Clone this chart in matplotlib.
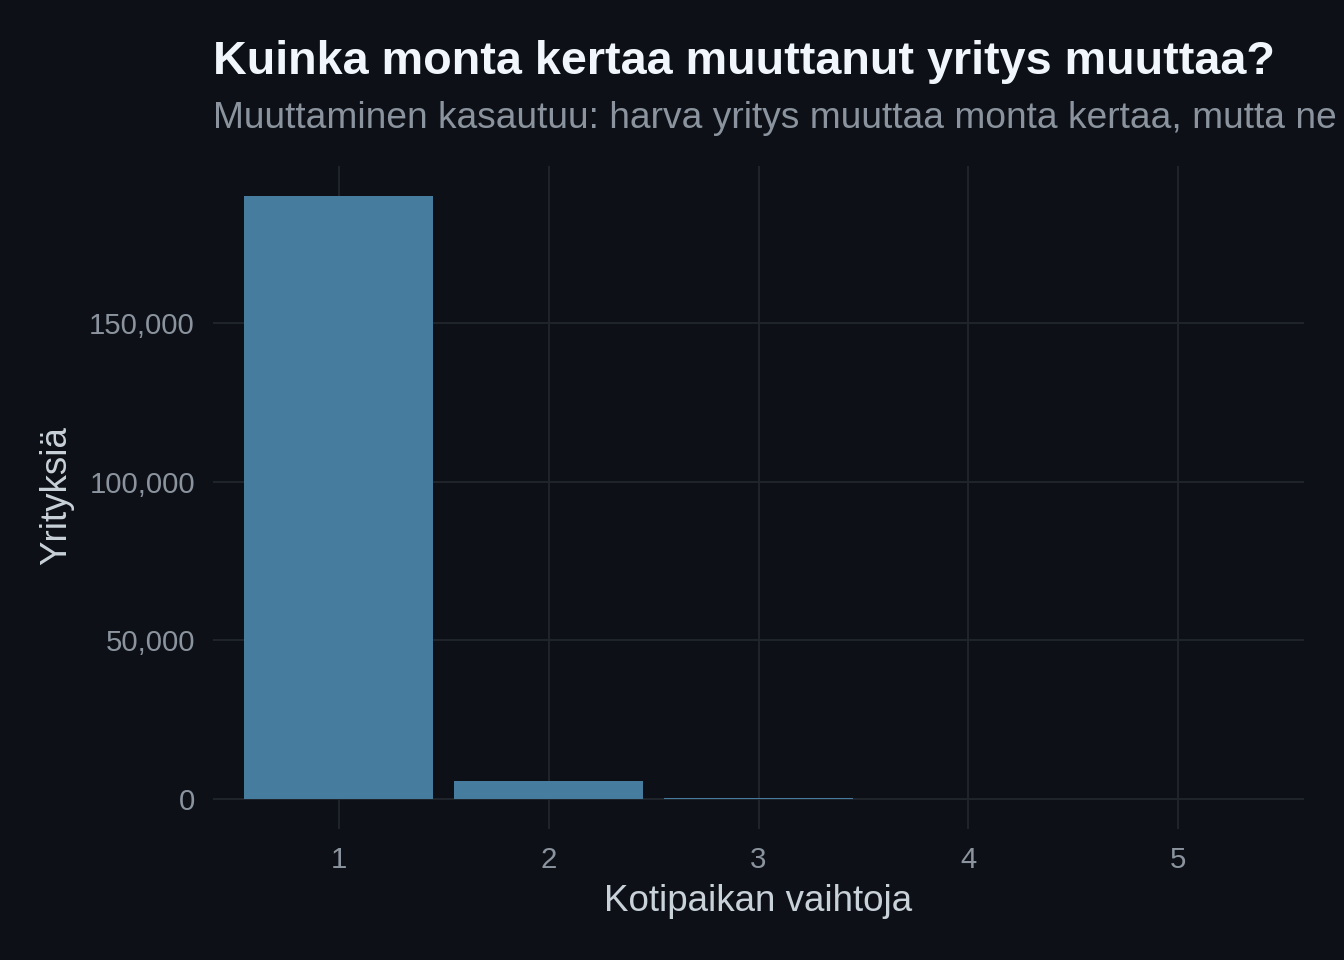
import matplotlib
matplotlib.use("Agg")
import matplotlib.pyplot as plt
from matplotlib.ticker import FuncFormatter

plt.rcParams['font.family'] = ['Liberation Sans', 'DejaVu Sans']

# Data
moves = [1, 2, 3, 4, 5]
companies = [190000, 5700, 350, 30, 5]
x_ticks = [1, 2, 3, 4, 5]
y_ticks = [0, 50000, 100000, 150000]

title = "Kuinka monta kertaa muuttanut yritys muuttaa?"
subtitle = "Muuttaminen kasautuu: harva yritys muuttaa monta kertaa, mutta ne"
xlabel = "Kotipaikan vaihtoja"
ylabel = "Yrityksiä"

BG = "#0d1117"
BAR = "#467c9d"
GRID = "#21262d"
TICK = "#8b949e"
AXT = "#c9d1d9"
TITLE = "#f0f6fc"

W, H = 1344, 960
fig = plt.figure(figsize=(W/100, H/100), dpi=100, facecolor=BG)
ax = fig.add_axes([213/W, 1-829/H, (1304-213)/W, (829-166)/H])
ax.set_facecolor(BG)

ax.bar(moves, companies, width=0.9, color=BAR, zorder=2)

ax.set_xlim(0.4, 5.6)
ymax = max(companies)
ax.set_ylim(-0.05*ymax, 1.05*ymax)
ax.set_xticks(x_ticks)
ax.set_yticks(y_ticks)
ax.yaxis.set_major_formatter(FuncFormatter(lambda v, p: f"{int(v):,}"))

ax.grid(True, color=GRID, linewidth=1.3, zorder=0)
ax.set_axisbelow(True)
for s in ax.spines.values():
    s.set_visible(False)
ax.tick_params(length=0, colors=TICK, labelsize=21.2)
ax.tick_params(axis='x', pad=12)
ax.tick_params(axis='y', pad=13)
for lab in ax.get_xticklabels() + ax.get_yticklabels():
    lab.set_color(TICK)

fig.text(758.5/W, 1-911/H, xlabel, color=AXT, fontsize=26.5,
         ha='center', va='baseline')
fig.text(66/W, 1-496/H, ylabel, color=AXT, fontsize=26.5, rotation=90,
         rotation_mode='anchor', ha='center', va='baseline')

fig.text(213/W, 1-74/H, title, color=TITLE, fontsize=33.7, fontweight='bold',
         va='baseline', ha='left')
fig.text(213/W, 1-128/H, subtitle, color=TICK, fontsize=26.7,
         va='baseline', ha='left')

fig.savefig("out.png", dpi=100, facecolor=BG)
